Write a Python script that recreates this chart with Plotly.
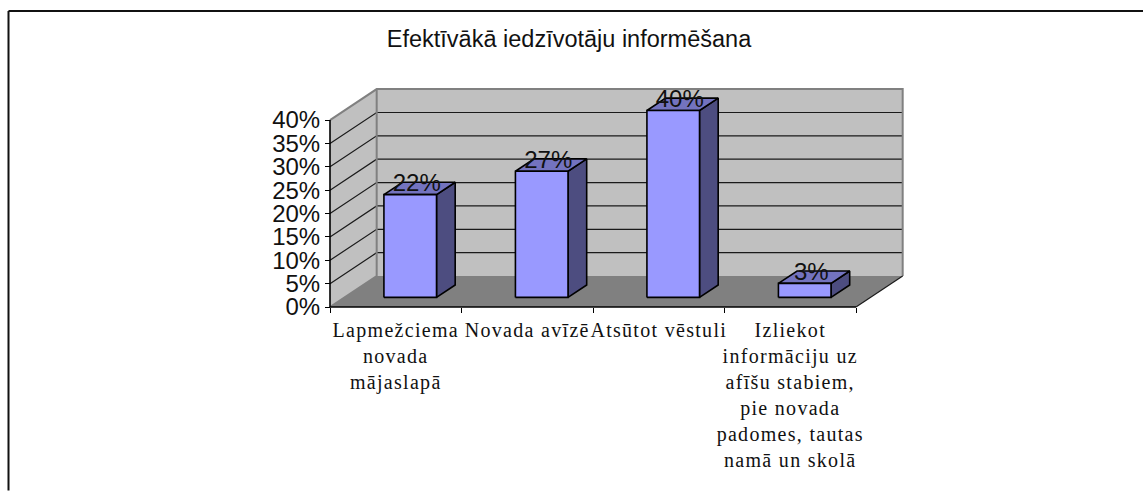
import plotly.graph_objects as go

categories = [
    "Lapmežciema<br>novada<br>mājaslapā",
    "Novada avīzē",
    "Atsūtot vēstuli",
    "Izliekot<br>informāciju uz<br>afīšu stabiem,<br>pie novada<br>padomes, tautas<br>namā un skolā",
]
values = [22, 27, 40, 3]
y_ticks = [0, 5, 10, 15, 20, 25, 30, 35, 40]

WALL = "#C0C0C0"
FLOOR = "#808080"
FRONT = "#9999FF"
SIDE = "#4D4D80"
TOP = "#7373BF"

# Oblique projection: depth d in 0..1 shifts a point right and up
DX, DY = 0.355, 6.62
BAR_W, D0, D1 = 0.4, 0.31, 0.71
N = len(categories)
YMAX = max(y_ticks)


def proj(x, y, d):
    return x + d * DX, y + d * DY


def poly(pts, fill, line="rgba(0,0,0,0)", width=0):
    xs, ys = zip(*[proj(*p) for p in pts + pts[:1]])
    return go.Scatter(x=xs, y=ys, mode="lines", fill="toself", fillcolor=fill,
                      line=dict(color=line, width=width), hoverinfo="skip",
                      showlegend=False)


def seg(pts, color, width):
    xs, ys = zip(*[proj(*p) for p in pts])
    return go.Scatter(x=xs, y=ys, mode="lines", line=dict(color=color, width=width),
                      hoverinfo="skip", showlegend=False)


fig = go.Figure()
# walls and floor
fig.add_trace(poly([(0, 0, 0), (0, YMAX, 0), (0, YMAX, 1), (0, 0, 1)], WALL))
fig.add_trace(poly([(0, 0, 1), (0, YMAX, 1), (N, YMAX, 1), (N, 0, 1)], WALL))
fig.add_trace(poly([(0, 0, 0), (N, 0, 0), (N, 0, 1), (0, 0, 1)], FLOOR))
# gridlines
for t in y_ticks[1:-1]:
    fig.add_trace(seg([(0, t, 0), (0, t, 1), (N, t, 1)], "#1a1a1a", 1.2))
# wall edges
fig.add_trace(seg([(0, YMAX, 0), (0, YMAX, 1), (N, YMAX, 1), (N, 0, 1)], FLOOR, 2))
fig.add_trace(seg([(0, YMAX, 1), (0, 0, 1), (0, 0, 0)], FLOOR, 2))
fig.add_trace(seg([(N, 0, 1), (N, 0, 0)], "#1a1a1a", 1.2))
# bars
for i, v in enumerate(values):
    a, b = i + 0.5 - BAR_W / 2, i + 0.5 + BAR_W / 2
    fig.add_trace(poly([(b, 0, D0), (b, 0, D1), (b, v, D1), (b, v, D0)], SIDE, "#000", 1.6))
    fig.add_trace(poly([(a, v, D0), (b, v, D0), (b, v, D1), (a, v, D1)], TOP, "#000", 1.6))
    fig.add_trace(poly([(a, 0, D0), (b, 0, D0), (b, v, D0), (a, v, D0)], FRONT, "#000", 1.6))
# value labels
lx, ly = zip(*[proj(i + 0.5, v + 1.1, 0.45) for i, v in enumerate(values)])
fig.add_trace(go.Scatter(x=lx, y=ly, mode="text", text=[f"{v}%" for v in values],
                         textposition="middle center", cliponaxis=False,
                         textfont=dict(family="Liberation Sans", size=24, color="#111"),
                         hoverinfo="skip", showlegend=False))
# axis lines
fig.add_trace(seg([(0, 0, 0), (N, 0, 0)], "#000", 1.6))
fig.add_trace(seg([(0, 0, 0), (0, YMAX, 0)], "#000", 1.6))

PAD = 4
SX, SY = 131.5, 4.68
L, R, T, B = 330 - PAD, 903 + PAD, 90 - PAD, 307.3 + PAD
W, H = R - L, B - T
fig.update_layout(
    width=1143, height=491, autosize=False,
    margin=dict(l=L, r=1143 - R, t=T, b=491 - B, pad=0, autoexpand=False),
    paper_bgcolor="white", plot_bgcolor="white", showlegend=False,
    title=dict(text="Efektīvākā iedzīvotāju informēšana", x=569 / 1143, xref="container",
               xanchor="center", y=1 - 39 / 491, yref="container", yanchor="middle",
               font=dict(family="Liberation Sans", size=23.5, color="#111")),
    xaxis=dict(range=[-PAD / SX, (W - PAD) / SX], showgrid=False, zeroline=False, showline=False,
               anchor="free", position=PAD / H,
               tickvals=[i + 0.5 for i in range(N)], ticktext=categories, tickangle=0,
               ticks="", tickfont=dict(family="Liberation Serif", size=20, color="#111"),
               ticklabelstandoff=9,
               minor=dict(tickvals=list(range(N + 1)), ticks="outside", ticklen=5,
                          tickwidth=1.2, tickcolor="#000", showgrid=False)),
    yaxis=dict(range=[-PAD / SY, (H - PAD) / SY], showgrid=False, zeroline=False, showline=False,
               anchor="free", position=PAD / W,
               tickvals=y_ticks, ticktext=[f"{t}%" for t in y_ticks], ticks="outside",
               ticklen=5, tickwidth=1.2, tickcolor="#000",
               tickfont=dict(family="Liberation Sans", size=24, color="#111")),
    shapes=[
        dict(type="line", xref="paper", yref="paper", x0=(8.5 - L) / W, x1=(1143 - L) / W,
             y0=(B - 11) / H, y1=(B - 11) / H, line=dict(color="#111", width=2)),
        dict(type="line", xref="paper", yref="paper", x0=(8.5 - L) / W, x1=(8.5 - L) / W,
             y0=(B - 11) / H, y1=(B - 491) / H, line=dict(color="#111", width=2)),
    ],
)

post = """
document.body.style.margin = '0';
var s = document.createElement('style');
s.textContent = '.xtick text{letter-spacing:1.3px}';
document.head.appendChild(s);
"""
fig.write_html("out.html", post_script=post, config={"displayModeBar": False})
